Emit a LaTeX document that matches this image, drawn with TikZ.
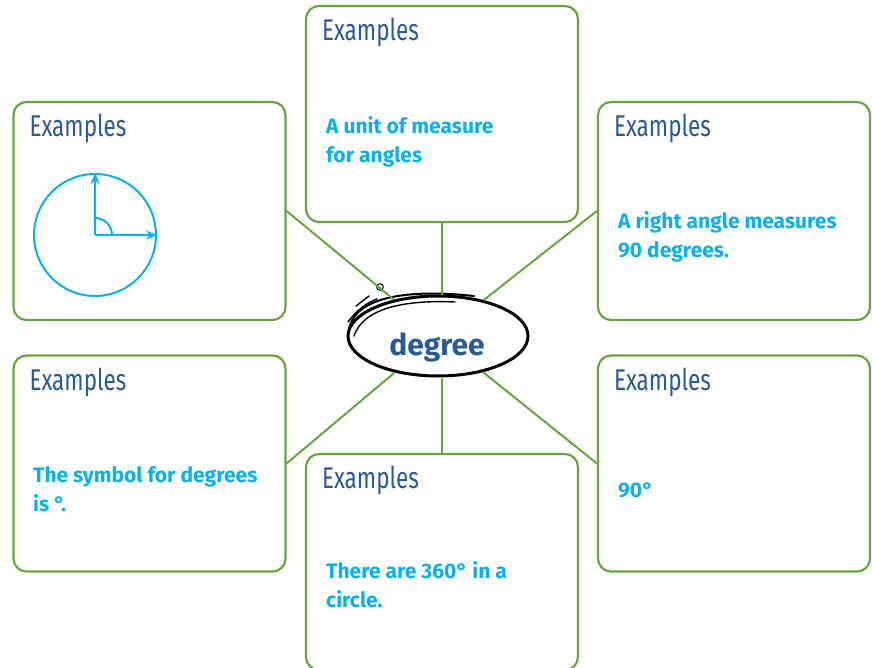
\documentclass[tikz,border=0pt]{standalone}
\usepackage{fontspec}
\setmainfont{Fira Sans}
\newfontfamily\headfont[FakeStretch=0.75]{Fira Sans}
\usetikzlibrary{arrows.meta,calc,shapes.geometric}
\definecolor{mapGreen}{HTML}{67A63F}
\definecolor{mapNavy}{HTML}{2A5A93}
\definecolor{mapCyan}{HTML}{0AB0EC}
\tikzset{
  examplebox/.style={draw=mapGreen, line width=2.2pt, rounded corners=13pt,
    minimum width=272pt, minimum height=216pt, inner sep=0pt},
  headtext/.style={anchor=base west, inner sep=0pt, text=mapNavy,
    font=\headfont\fontsize{30}{30}\selectfont},
  bodytext/.style={anchor=base west, inner sep=0pt, align=left, text=mapCyan,
    font=\bfseries\fontsize{21}{29}\selectfont},
  link/.style={draw=mapGreen, line width=2pt},
  ray/.style={draw=mapCyan, line width=2pt, -{Stealth[length=11pt, width=9pt]}},
  sketch/.style={draw=black, line width=1.4pt, line cap=round}
}

\begin{document}
\begin{tikzpicture}[x=1pt, y=-1pt]
  \useasboundingbox (0,0) rectangle (872,668);

  % six example boxes round the word
  \node[examplebox] (tc) at (442,114) {};
  \node[examplebox, minimum height=218pt] (tl) at (149.5,211) {};
  \node[examplebox, minimum height=218pt] (tr) at (734,211) {};
  \node[examplebox] (bl) at (149.5,463.5) {};
  \node[examplebox] (br) at (734,463.5) {};
  \node[examplebox] (bc) at (442,562) {};

  \foreach \b in {tc,tl,tr,bl,br,bc}{
    \node[headtext] (\b-head) at ($(\b.north west)+(17,36)$) {Examples};
  }

  % centre word
  \node[ellipse, draw=black, line width=3pt, fill=white,
    minimum width=180pt, minimum height=80pt] (deg) at (438,336) {};
  \node[anchor=base, inner sep=0pt, text=mapNavy,
    font=\bfseries\fontsize{30}{30}\selectfont] (deg-text) at (437,355) {degree};
  \draw[sketch, line width=2pt] (349,330) .. controls (354,296) and (410,289) .. (474,296);
  \draw[sketch] (354,336) .. controls (364,306) and (410,300) .. (455,302);
  \draw[sketch] (356,306) -- (369,296);
  \draw[sketch] (348,322) .. controls (356,311) and (366,303) .. (377,299);
  \draw[sketch, line width=1pt] (380,287) circle[radius=3.3];
  \draw[sketch, line width=1pt] (384,292) -- (387,293);

  \foreach \a in {tl.east,tr.west,bl.east,br.west}{
    \draw[link] (\a) -- (deg);
  }
  \draw[link] (tc.south) -- (tc.south |- deg.north);
  \draw[link] (bc.north) -- (bc.north |- deg.south);

  % texts
  \node[bodytext] (tc-body) at (326,163) {A unit of measure\\for angles};
  \node[bodytext] (tr-body) at (618,258) {A right angle measures\\90 degrees.};
  \node[bodytext] (bl-body) at (33,511) {The symbol for degrees\\is °.};
  \node[bodytext] (bc-body) at (326,607) {There are 360° in a\\circle.};
  \node[bodytext] (br-body) at (618,497) {90°};

  % right angle in a circle
  \node[circle, draw=mapCyan, line width=2pt, minimum size=122pt, inner sep=0pt] (dial) at (95,235) {};
  \draw[ray] (dial.center) -- (dial.north);
  \draw[ray] (dial.center) -- (dial.east);
  \draw[mapCyan, line width=2pt] ($(dial.center)+(17,0)$) arc[start angle=0, end angle=-90, radius=17];
\end{tikzpicture}
\end{document}
